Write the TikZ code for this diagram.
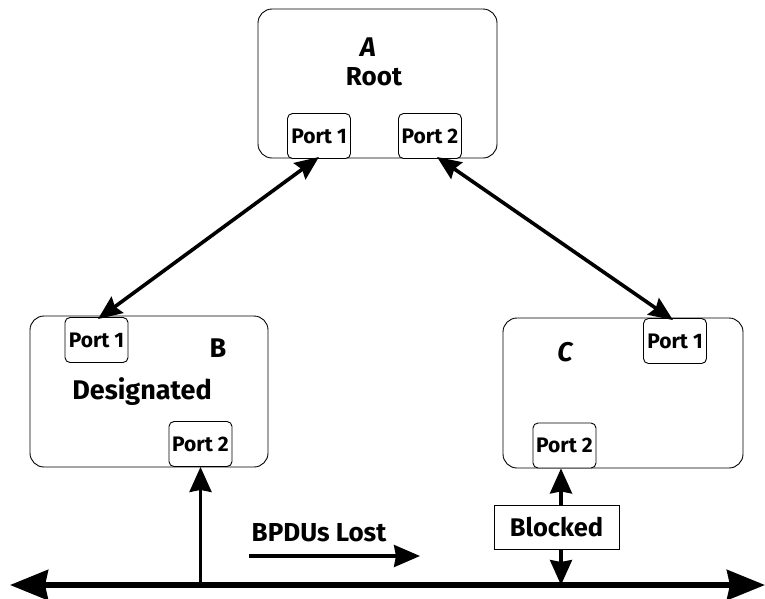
\documentclass[tikz,border=0pt]{standalone}
\usepackage{fontspec}
\setmainfont{Fira Sans}
\usetikzlibrary{arrows.meta,calc}
\begin{document}
\begin{tikzpicture}[x=1pt,y=-1pt,
  sw/.style={draw=black,line width=0.9pt,rounded corners=14pt,inner sep=0pt},
  port/.style={draw=black,line width=0.9pt,rounded corners=5pt,fill=white,inner sep=0pt,
     minimum width=63pt,minimum height=45pt,font=\fontsize{21}{24}\selectfont\bfseries},
  lbl/.style={inner sep=0pt,font=\fontsize{26}{30}\selectfont\bfseries},
  big/.style={inner sep=0pt,font=\fontsize{27}{30}\selectfont\bfseries},
  link/.style={line width=3.6pt,{Stealth[length=24pt,width=20pt,inset=3pt]}-{Stealth[length=24pt,width=20pt,inset=3pt]}},
  vlink/.style={line width=3.2pt,-{Stealth[length=25pt,width=22pt,inset=2pt]}},
  busline/.style={line width=5.5pt,{Stealth[length=38pt,width=30pt,inset=3pt]}-{Stealth[length=38pt,width=30pt,inset=3pt]}}]
\useasboundingbox (0,0) rectangle (765,598);
% switches
\node[sw,minimum width=239pt,minimum height=149pt] (A) at (377.5,83.5) {};
\node[sw,minimum width=238pt,minimum height=151pt] (B) at (149,391.5) {};
\node[sw,minimum width=240pt,minimum height=150pt] (C) at (623,393) {};
% ports
\node[port] (ap1) at (319,136) {Port 1};
\node[port] (ap2) at (430,136) {Port 2};
\node[port] (bp1) at (96.5,340) {Port 1};
\node[port] (bp2) at (200.5,444) {Port 2};
\node[port] (cp1) at (675,341) {Port 1};
\node[port] (cp2) at (564.5,445.5) {Port 2};
% labels
\node[big,font=\fontsize{27}{30}\selectfont\bfseries\itshape] (la) at (368,47) {A};
\node[lbl] (lroot) at (374,77) {Root};
\node[big] (lb) at (218,348) {B};
\node[lbl,font=\fontsize{27}{30}\selectfont\bfseries] (ldes) at (142,392) {Designated};
\node[big,font=\fontsize{27}{30}\selectfont\bfseries\itshape] (lc) at (565,352) {C};
% blocked
\node[draw=black,line width=0.9pt,fill=white,minimum width=125pt,minimum height=44pt,inner sep=0pt,
  font=\fontsize{25.5}{28}\selectfont\bfseries] (blk) at (556.5,527) {Blocked};
% bus
\coordinate (busL) at (10,585);
\coordinate (busR) at (765,585);
\draw[busline] (busL) -- (busR);
\coordinate (cx) at (561,0);
\coordinate (bjoin) at (bp2.south |- busL);
\coordinate (cjoin) at (cx |- busL);
% links
\draw[link] ([yshift=2pt]ap1.south) -- ([xshift=1.5pt,yshift=-2pt]bp1.north);
\draw[link] ([xshift=7pt,yshift=2pt]ap2.south) -- ([xshift=-2pt,yshift=-2pt]cp1.north);
\draw[vlink] (bjoin) -- (bp2.south);
\draw[vlink] (blk.north -| cx) -- (cp2.south -| cx);
\draw[vlink] (blk.south -| cx) -- (cjoin);
% BPDUs lost
\node[inner sep=0pt,font=\fontsize{26}{30}\selectfont\bfseries] (bpdu) at (319,533) {BPDUs Lost};
\coordinate (bl1) at (249,556);
\coordinate (bl2) at (420,556);
\draw[line width=3.2pt,-{Stealth[length=26pt,width=22pt,inset=2pt]}] (bl1) -- (bl2);
\end{tikzpicture}
\end{document}
